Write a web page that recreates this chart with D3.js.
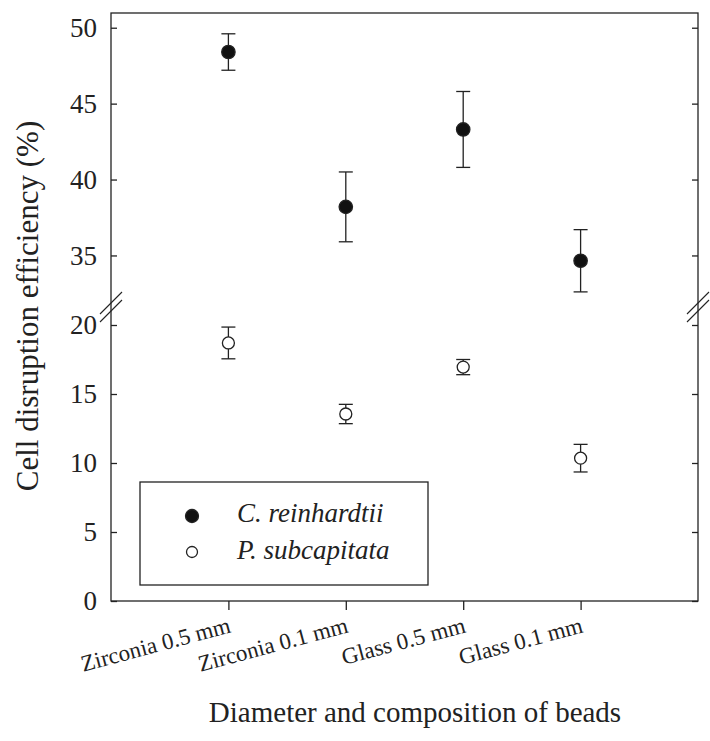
<!DOCTYPE html>
<html>
<head>
<meta charset="utf-8">
<script src="https://cdn.jsdelivr.net/npm/d3@7"></script>
</head>
<body style="margin:0;background:#fff">
<svg id="chart" width="710" height="741"></svg>
<script>
const categories = ['Zirconia 0.5 mm', 'Zirconia 0.1 mm', 'Glass 0.5 mm', 'Glass 0.1 mm'];
const reinhardtii = [48.4, 38.2, 43.3, 34.65];
const reinhardtiiErr = [1.2, 2.3, 2.5, 2.05];
const subcapitata = [18.7, 13.55, 16.95, 10.35];
const subcapitataErr = [1.15, 0.7, 0.55, 1.0];
const upperTicks = [35, 40, 45, 50];
const lowerTicks = [0, 5, 10, 15, 20];

const FONT = "'Times New Roman', Times, 'Liberation Serif', Tinos, 'Nimbus Roman', FreeSerif";
const svg = d3.select('#chart').attr('font-family', FONT).style('font-family', FONT);
const margin = { left: 111, right: 12, top: 13, bottom: 140 };
const W = 710, H = 741;
const x0 = margin.left, x1 = W - margin.right;
const yBottom = H - margin.bottom;

const x = d3.scaleLinear().domain([0, 5]).range([x0, x1]);
// broken axis: two segments
const yUp = d3.scaleLinear().domain([32, 50.97]).range([301, margin.top]);
const yLo = d3.scaleLinear().domain([0, 20]).range([yBottom, 325]);

const ink = '#222';

function txt(sel, size) {
  return sel.attr('font-family', FONT).style('font-family', FONT)
    .attr('font-size', size).style('font-size', size + 'px').attr('fill', ink);
}

// frame
svg.append('rect')
  .attr('x', x0).attr('y', margin.top)
  .attr('width', x1 - x0).attr('height', yBottom - margin.top)
  .attr('fill', 'none').attr('stroke', ink).attr('stroke-width', 1.3);

// left axes (ticks inward)
function leftAxis(scale, ticks) {
  const g = svg.append('g').attr('transform', `translate(${x0},0)`)
    .call(d3.axisLeft(scale).tickValues(ticks).tickSizeInner(-6).tickSizeOuter(0).tickPadding(14));
  g.attr('font-family', FONT);
  g.select('.domain').remove();
  g.selectAll('line').attr('stroke', ink).attr('stroke-width', 1.3);
  txt(g.selectAll('text'), 27);
}
leftAxis(yUp, upperTicks);
leftAxis(yLo, lowerTicks);

// right axes (mirrored inward ticks)
function rightAxis(scale, ticks) {
  const g = svg.append('g').attr('transform', `translate(${x1},0)`)
    .call(d3.axisRight(scale).tickValues(ticks).tickSizeInner(-6).tickSizeOuter(0).tickFormat(''));
  g.select('.domain').remove();
  g.selectAll('line').attr('stroke', ink).attr('stroke-width', 1.3);
}
rightAxis(yUp, upperTicks);
rightAxis(yLo, lowerTicks);

// break marks
[x0, x1].forEach(cx => {
  svg.append('line')
    .attr('x1', cx - 11).attr('y1', 314).attr('x2', cx + 11).attr('y2', 292)
    .attr('stroke', ink).attr('stroke-width', 1.1);
  svg.append('line')
    .attr('x1', cx - 11).attr('y1', 322).attr('x2', cx + 11).attr('y2', 300)
    .attr('stroke', ink).attr('stroke-width', 1.1);
});

// bottom axis
const gx = svg.append('g').attr('transform', `translate(0,${yBottom})`)
  .call(d3.axisBottom(x).tickValues([1, 2, 3, 4]).tickSizeInner(9).tickSizeOuter(0)
    .tickFormat((d, i) => categories[i]));
gx.attr('font-family', FONT);
gx.select('.domain').remove();
gx.selectAll('line').attr('stroke', ink).attr('stroke-width', 1.3);
txt(gx.selectAll('text'), 23)
  .attr('text-anchor', 'end')
  .attr('y', 0)
  .attr('dy', 0)
  .attr('transform', 'translate(3,31) rotate(-15)');

// error bars and points
function series(vals, errs, scale, filled) {
  const g = svg.append('g');
  vals.forEach((v, i) => {
    const cx = x(i + 1);
    const yt = scale(v + errs[i]), yb = scale(v - errs[i]);
    g.append('line').attr('x1', cx).attr('x2', cx).attr('y1', yt).attr('y2', yb)
      .attr('stroke', ink).attr('stroke-width', 1.3);
    [yt, yb].forEach(yy => g.append('line')
      .attr('x1', cx - 7).attr('x2', cx + 7).attr('y1', yy).attr('y2', yy)
      .attr('stroke', ink).attr('stroke-width', 1.3));
  });
  g.selectAll('circle').data(vals).join('circle')
    .attr('cx', (d, i) => x(i + 1))
    .attr('cy', d => scale(d))
    .attr('r', filled ? 6.7 : 6)
    .attr('fill', filled ? '#111' : '#fff')
    .attr('stroke', ink).attr('stroke-width', 1.3);
}
series(reinhardtii, reinhardtiiErr, yUp, true);
series(subcapitata, subcapitataErr, yLo, false);

// legend
const lg = svg.append('g');
lg.append('rect').attr('x', 140).attr('y', 482).attr('width', 288).attr('height', 103)
  .attr('fill', '#fff').attr('stroke', ink).attr('stroke-width', 1.3);
[['C. reinhardtii', true, 516, 522], ['P. subcapitata', false, 552, 559]].forEach(([name, filled, cy, ty]) => {
  lg.append('circle').attr('cx', 192).attr('cy', cy).attr('r', filled ? 6.5 : 5.5)
    .attr('fill', filled ? '#111' : '#fff').attr('stroke', ink).attr('stroke-width', 1.3);
  txt(lg.append('text').attr('x', 237).attr('y', ty).text(name), 27)
    .style('font-style', 'italic');
});

// axis titles
txt(svg.append('text')
  .attr('transform', 'translate(38,306) rotate(-90)')
  .attr('text-anchor', 'middle'), 31)
  .text('Cell disruption efficiency (%)');
txt(svg.append('text')
  .attr('x', 415).attr('y', 722)
  .attr('text-anchor', 'middle'), 29)
  .text('Diameter and composition of beads');
</script>
</body>
</html>
